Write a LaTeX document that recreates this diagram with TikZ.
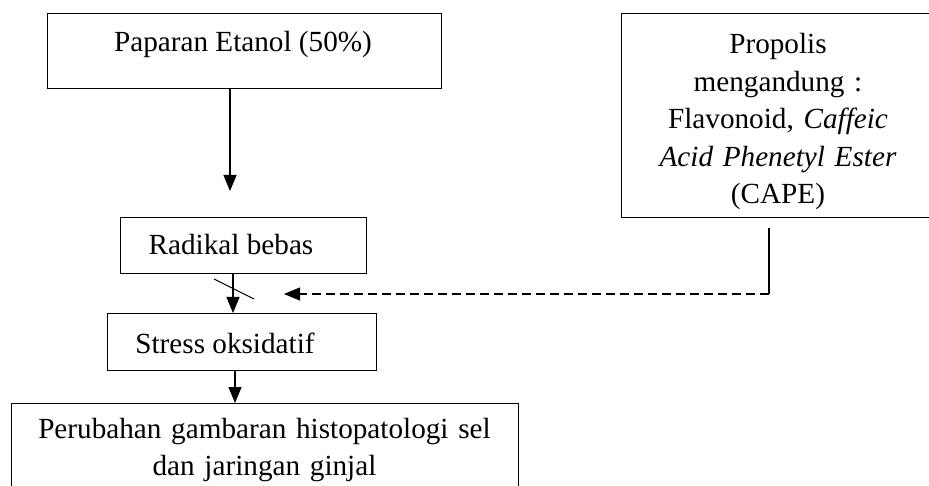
\documentclass[tikz,border=0pt]{standalone}
\usepackage{fontspec}
\setmainfont{Liberation Serif}
\usetikzlibrary{arrows.meta}
\begin{document}
\begin{tikzpicture}[x=1pt,y=-1pt,
  box/.style={draw,line width=1.2pt,inner sep=0pt,anchor=north west},
  txt/.style={inner sep=0pt,anchor=base,align=center,font=\fontsize{29.2}{37.5}\selectfont},
  arr/.style={line width=1.1pt,-{Triangle[length=16pt,width=13pt]}},
  dasharr/.style={line width=1.1pt,dash pattern=on 9pt off 5pt,-{Triangle[length=16pt,width=13pt]}}]
\useasboundingbox (0,0) rectangle (929,486);
\clip (0,0) rectangle (929,486);
% boxes
\node[box,minimum width=394pt,minimum height=75pt] (pap) at (47,13) {};
\node[box,minimum width=314pt,minimum height=204pt] (prop) at (621,13) {};
\node[box,minimum width=246pt,minimum height=56pt] (rad) at (120,217) {};
\node[box,minimum width=269pt,minimum height=57pt] (str) at (107,313) {};
\node[box,minimum width=507pt,minimum height=100pt] (fin) at (11,403) {};
% texts
\node[txt] (tpap) at (243,52) {Paparan Etanol (50\%)};
\node[txt,text width=300pt] (tprop) at (778,54) {Propolis\\mengandung :\\Flavonoid, \textit{Caffeic}\\\textit{Acid Phenetyl Ester}\\(CAPE)};
\node[txt] (trad) at (231,255) {Radikal bebas};
\node[txt] (tstr) at (225,353) {Stress oksidatif};
\node[txt,text width=500pt] (tfin) at (264.5,438) {Perubahan gambaran histopatologi sel\\dan jaringan ginjal};
% connectors
\coordinate (a1) at (230,191);
\draw[arr] (a1 |- pap.south) -- (a1);
\coordinate (x2) at (233,0);
\draw[arr] (x2 |- rad.south) -- (x2 |- str.north);
\coordinate (s0) at (214,279);
\coordinate (s1) at (254,299);
\draw[line width=1.1pt] (s0) -- (s1);
\coordinate (x3) at (235,0);
\draw[arr] (x3 |- str.south) -- (x3 |- fin.north);
\coordinate (d0) at (769,228);
\coordinate (d1) at (769,294);
\coordinate (d2) at (284,294);
\draw[line width=1.1pt] (d0) -- (d1);
\draw[dasharr] (d1) -- (d2);
\end{tikzpicture}
\end{document}
